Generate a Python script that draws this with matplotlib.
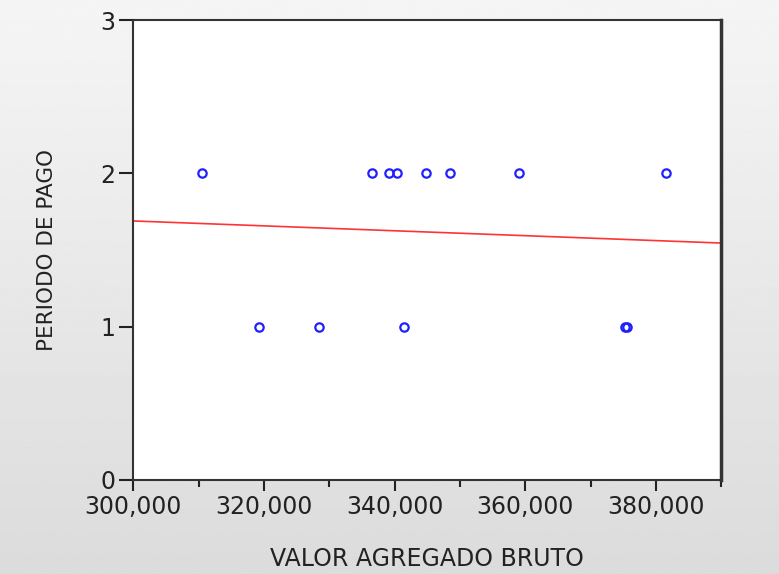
import numpy as np
import matplotlib.pyplot as plt
from matplotlib.ticker import MultipleLocator, FuncFormatter

# ----------------------------
# Dados
# ----------------------------
valor_agregado = [310600, 336500, 339200, 340300, 344800, 348500, 359100, 381500,
                  319200, 328500, 341400, 375300, 375600]
periodo_pago = [2, 2, 2, 2, 2, 2, 2, 2,
                1, 1, 1, 1, 1]

x_min, x_max = 300000, 390000
y_ticks = [0, 1, 2, 3]

plt.rcParams['font.family'] = ['DejaVu Sans']

fig = plt.figure(figsize=(7.79, 5.74), dpi=100)

# fundo em degradê
bg = fig.add_axes([0, 0, 1, 1], zorder=-1)
grad = np.linspace(0.96, 0.86, 256).reshape(-1, 1)
bg.imshow(grad, aspect='auto', cmap='gray', vmin=0, vmax=1, extent=[0, 1, 0, 1])
bg.axis('off')

ax = fig.add_axes([0.171, 0.164, 0.755, 0.801])
ax.set_facecolor('white')

# reta de regressão
coef = np.polyfit(valor_agregado, periodo_pago, 1)
xs = np.array([x_min, x_max])
ax.plot(xs, np.polyval(coef, xs), color='#ff3333', lw=1.2, zorder=2)

ax.plot(valor_agregado, periodo_pago, 'o', ms=6, mfc='none', mec='#2020ff', mew=1.6, zorder=3)

ax.set_xlim(x_min, x_max)
ax.set_ylim(0, 3)
ax.set_yticks(y_ticks)
ax.xaxis.set_major_locator(MultipleLocator(20000))
ax.xaxis.set_minor_locator(MultipleLocator(10000))
ax.xaxis.set_major_formatter(FuncFormatter(lambda v, p: f"{int(v):,}"))

ax.tick_params(axis='both', which='major', direction='out', length=8, width=1.5,
               labelsize=17, colors='#222222', pad=3)
ax.tick_params(axis='x', which='minor', direction='out', length=5, width=1.5, colors='#222222')
ax.tick_params(axis='y', which='major', length=10)

for s in ax.spines.values():
    s.set_linewidth(1.5)
    s.set_color('#333333')
ax.spines['right'].set_linewidth(2.5)

ax.set_xlabel('VALOR AGREGADO BRUTO', fontsize=17, color='#222222', labelpad=20)
ax.set_ylabel('PERIODO DE PAGO', fontsize=15.5, color='#222222', labelpad=31)

fig.savefig('out.png', dpi=100)
